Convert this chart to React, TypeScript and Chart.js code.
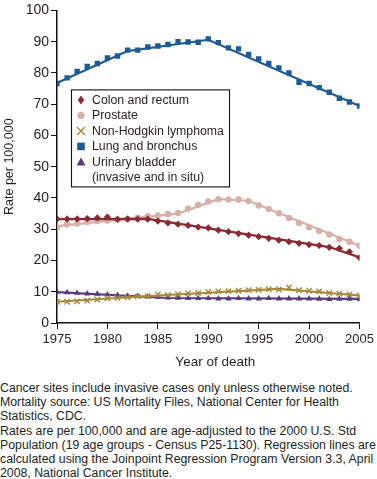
import React, { useEffect, useRef } from "react";
import { Chart, registerables } from "chart.js";

Chart.register(...registerables);

const YEARS = [1975, 1976, 1977, 1978, 1979, 1980, 1981, 1982, 1983, 1984, 1985, 1986, 1987, 1988, 1989, 1990, 1991, 1992, 1993, 1994, 1995, 1996, 1997, 1998, 1999, 2000, 2001, 2002, 2003, 2004, 2005];

const COLON = [33.3, 33.3, 33.3, 33.4, 33.6, 33.9, 33.2, 33.3, 33.2, 33.2, 32.6, 32.0, 31.6, 31.2, 30.7, 30.4, 29.7, 29.2, 28.6, 28.1, 27.6, 27.1, 26.5, 26.0, 25.5, 25.1, 24.8, 24.2, 23.9, 22.8, 20.9];
const PROSTATE = [30.6, 31.6, 31.8, 32.3, 32.6, 32.8, 33.0, 33.2, 33.7, 34.2, 34.4, 34.9, 35.2, 36.6, 37.8, 38.9, 39.6, 39.5, 39.5, 39.0, 37.6, 36.5, 35.1, 33.6, 32.0, 30.6, 29.4, 28.3, 26.9, 26.0, 24.7];
const NHL = [6.8, 6.8, 6.9, 7.2, 7.5, 7.9, 8.0, 8.2, 8.5, 8.6, 9.1, 8.9, 9.2, 9.5, 9.6, 9.9, 10.1, 10.2, 10.3, 10.5, 10.6, 10.8, 10.7, 11.4, 10.5, 10.3, 10.1, 9.6, 9.4, 9.1, 8.8];
const LUNG = [76.6, 78.4, 80.5, 82.1, 83.0, 84.8, 85.4, 87.3, 87.3, 88.3, 88.6, 89.1, 90.0, 89.9, 89.8, 90.9, 89.7, 88.0, 87.7, 85.9, 84.5, 83.0, 81.6, 80.0, 77.0, 76.6, 75.3, 73.8, 71.9, 70.7, 69.4];
const BLADDER = [9.9, 9.8, 9.6, 9.4, 9.3, 9.1, 8.9, 8.7, 8.6, 8.4, 8.3, 8.1, 8.0, 7.9, 7.9, 7.9, 7.8, 7.8, 7.9, 7.8, 7.8, 7.9, 7.8, 7.8, 7.8, 7.8, 7.7, 7.6, 7.7, 7.7, 7.6];

// Joinpoint regression lines: [year, rate]
const COLON_TREND = [[1975, 33.2], [1984, 33.3], [2002, 24.3], [2005, 21.0]];
const PROSTATE_TREND = [[1975, 31.0], [1987, 35.0], [1991, 39.6], [1994, 39.1], [2005, 24.7]];
const NHL_TREND = [[1975, 6.8], [1985, 8.8], [1997, 10.9], [2005, 8.8]];
const LUNG_TREND = [[1975, 76.8], [1982, 87.0], [1990, 90.6], [2005, 69.4]];
const BLADDER_TREND = [[1975, 9.9], [1986, 8.0], [2005, 7.7]];

const X_TICKS = [1975, 1980, 1985, 1990, 1995, 2000, 2005];
const Y_TICKS = [0, 10, 20, 30, 40, 50, 60, 70, 80, 90, 100];

const SERIES = [
  { label: ["Colon and rectum"], values: COLON, trend: COLON_TREND, color: "#8a2a33", style: "rectRot", radius: 3.6 },
  { label: ["Prostate"], values: PROSTATE, trend: PROSTATE_TREND, color: "#d6b1a8", style: "circle", radius: 3.2 },
  { label: ["Non-Hodgkin lymphoma"], values: NHL, trend: NHL_TREND, color: "#a8883a", style: "crossRot", radius: 3.8 },
  { label: ["Lung and bronchus"], values: LUNG, trend: LUNG_TREND, color: "#1d5b95", style: "rect", radius: 3.8 },
  { label: ["Urinary bladder", "(invasive and in situ)"], values: BLADDER, trend: BLADDER_TREND, color: "#5a3a7c", style: "triangle", radius: 3.6 },
];

const FOOTNOTE = [
  "Cancer sites include invasive cases only unless otherwise noted.",
  "Mortality source: US Mortality Files, National Center for Health",
  "Statistics, CDC.",
  "Rates are per 100,000 and are age-adjusted to the 2000 U.S. Std",
  "Population (19 age groups - Census P25-1130). Regression lines are",
  "calculated using the Joinpoint Regression Program Version 3.3, April",
  "2008, National Cancer Institute.",
];

const FONT = "'Liberation Sans', Arial, Helvetica, sans-serif";
const TEXT = "#231f20";

function drawMarker(ctx: CanvasRenderingContext2D, style: string, x: number, y: number, color: string) {
  ctx.save();
  ctx.fillStyle = color;
  ctx.strokeStyle = color;
  ctx.beginPath();
  if (style === "rectRot") {
    ctx.moveTo(x, y - 4.5);
    ctx.lineTo(x + 3.2, y);
    ctx.lineTo(x, y + 4.5);
    ctx.lineTo(x - 3.2, y);
    ctx.closePath();
    ctx.fill();
  } else if (style === "circle") {
    ctx.arc(x, y, 3.6, 0, Math.PI * 2);
    ctx.fill();
  } else if (style === "crossRot") {
    ctx.lineWidth = 1.4;
    ctx.moveTo(x - 4, y - 4);
    ctx.lineTo(x + 4, y + 4);
    ctx.moveTo(x + 4, y - 4);
    ctx.lineTo(x - 4, y + 4);
    ctx.stroke();
  } else if (style === "rect") {
    ctx.rect(x - 3.8, y - 3.8, 7.6, 7.6);
    ctx.fill();
  } else if (style === "triangle") {
    ctx.moveTo(x, y - 4.5);
    ctx.lineTo(x + 4.5, y + 3.5);
    ctx.lineTo(x - 4.5, y + 3.5);
    ctx.closePath();
    ctx.fill();
  }
  ctx.restore();
}

const legendBoxPlugin = {
  id: "legendBox",
  afterDraw(chart: any) {
    const ctx: CanvasRenderingContext2D = chart.ctx;
    const area = chart.chartArea;
    const left = area.left + 14;
    const top = area.top + 79;
    const w = 158;
    const h = 97;
    ctx.save();
    ctx.fillStyle = "#ffffff";
    ctx.fillRect(left, top, w, h);
    ctx.strokeStyle = "#111";
    ctx.lineWidth = 1.1;
    ctx.strokeRect(left + 0.5, top + 0.5, w, h);
    ctx.font = `12.3px ${FONT}`;
    ctx.textBaseline = "middle";
    let y = top + 10.5;
    const lh = 15.5;
    SERIES.forEach((s) => {
      drawMarker(ctx, s.style, left + 10, y, s.color);
      s.label.forEach((line, i) => {
        ctx.fillStyle = TEXT;
        ctx.fillText(line, left + 21, y + i * lh + 0.5);
      });
      y += lh * s.label.length;
    });
    ctx.restore();
  },
};

const xTitlePlugin = {
  id: "xTitle",
  afterDraw(chart: any) {
    const ctx: CanvasRenderingContext2D = chart.ctx;
    const area = chart.chartArea;
    ctx.save();
    ctx.font = `13.5px ${FONT}`;
    ctx.fillStyle = TEXT;
    ctx.textAlign = "center";
    ctx.textBaseline = "middle";
    ctx.fillText("Year of death", (area.left + area.right) / 2 + 7, area.bottom + 39);
    ctx.restore();
  },
};

export default function App() {
  const ref = useRef<HTMLCanvasElement>(null);

  useEffect(() => {
    if (!ref.current) return;
    const datasets: any[] = [];
    SERIES.forEach((s) => {
      datasets.push({
        type: "line",
        label: s.label.join(" ") + " trend",
        data: s.trend.map(([x, y]) => ({ x, y })),
        borderColor: s.color,
        borderWidth: 2.2,
        pointRadius: 0,
        tension: 0,
        fill: false,
      });
      datasets.push({
        type: "line",
        label: s.label.join(" "),
        data: YEARS.map((x, i) => ({ x, y: s.values[i] })),
        showLine: false,
        pointStyle: s.style,
        pointRadius: s.radius,
        pointBackgroundColor: s.color,
        pointBorderColor: s.color,
        pointBorderWidth: s.style === "crossRot" ? 1.4 : 0,
      });
    });

    const chart = new Chart(ref.current, {
      type: "line",
      data: { datasets },
      plugins: [legendBoxPlugin, xTitlePlugin],
      options: {
        animation: false,
        responsive: false,
        layout: { padding: { top: 7, right: 14, left: 0, bottom: 0 } },
        plugins: { legend: { display: false }, tooltip: { enabled: false } },
        scales: {
          x: {
            type: "linear",
            min: 1975,
            max: 2005,
            afterBuildTicks: (scale: any) => {
              scale.ticks = X_TICKS.map((v) => ({ value: v }));
            },
            afterFit: (scale: any) => {
              scale.height = 53;
            },
            ticks: {
              padding: 3,
              color: TEXT,
              font: { family: FONT, size: 13 },
              callback: (v: any) => String(v),
              maxRotation: 0,
            },
            grid: { drawOnChartArea: false, drawTicks: true, tickLength: 6, color: "#111", lineWidth: 1 },
            border: { display: true, color: "#111", width: 1.5 },
            title: { display: false },
          },
          y: {
            type: "linear",
            min: 0,
            max: 100,
            afterBuildTicks: (scale: any) => {
              scale.ticks = Y_TICKS.map((v) => ({ value: v }));
            },
            afterFit: (scale: any) => {
              scale.width = 57;
            },
            ticks: {
              padding: 2,
              color: TEXT,
              font: { family: FONT, size: 14 },
              callback: (v: any) => String(v),
            },
            grid: { drawOnChartArea: false, drawTicks: true, tickLength: 6, color: "#111", lineWidth: 1 },
            border: { display: true, color: "#111", width: 1.5 },
            title: {
              display: true,
              text: "Rate per 100,000",
              color: TEXT,
              font: { family: FONT, size: 12.5 },
              padding: { top: 2, bottom: 0 },
            },
          },
        },
      } as any,
    });
    return () => chart.destroy();
  }, []);

  return (
    <div style={{ position: "absolute", left: 0, top: 0, width: 377, height: 479, background: "#fff", overflow: "hidden" }}>
      <canvas ref={ref} width={377} height={376} style={{ display: "block", width: 377, height: 376 }} />
      <div
        style={{
          position: "absolute",
          left: 0,
          top: 381,
          fontFamily: FONT,
          fontSize: 12.3,
          lineHeight: "14.2px",
          color: TEXT,
          whiteSpace: "nowrap",
        }}
      >
        {FOOTNOTE.map((t, i) => (
          <div key={i}>{t}</div>
        ))}
      </div>
    </div>
  );
}
